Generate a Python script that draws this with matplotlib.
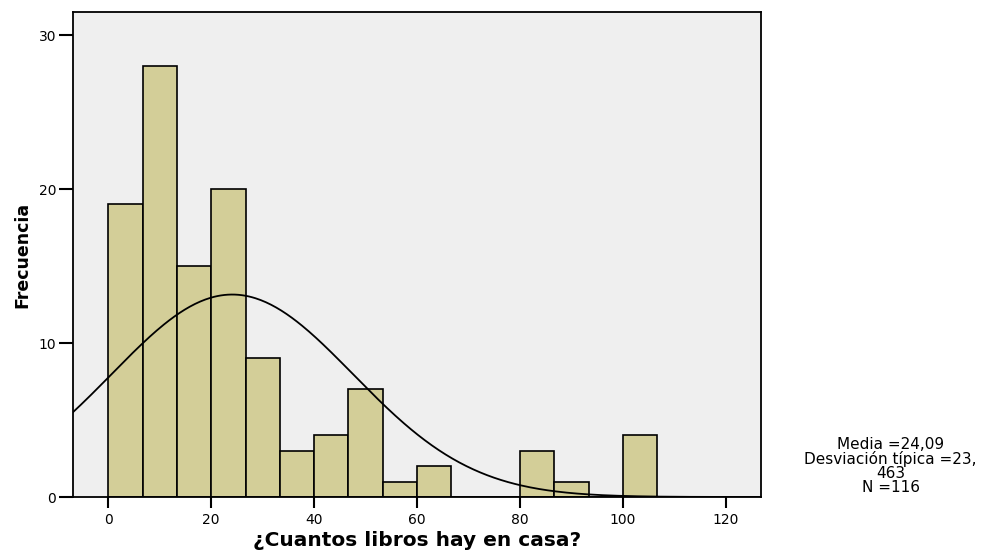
import matplotlib.pyplot as plt
import numpy as np

plt.rcParams['font.family'] = ['DejaVu Sans']

# histogram data
bin_width = 100 / 15
bin_starts = np.arange(16) * bin_width
counts = [19, 28, 15, 20, 9, 3, 4, 7, 1, 2, 0, 0, 3, 1, 0, 4]
mean = 24.09
sd = 23.463
n = 116

fig = plt.figure(figsize=(9.83, 5.55), dpi=100)
ax = fig.add_axes([0.0743, 0.1045, 0.7000, 0.8739])
ax.set_facecolor('#efefef')

ax.bar(bin_starts, counts, width=bin_width, align='edge',
       color='#d3ce98', edgecolor='black', linewidth=1.2, zorder=2)

# normal curve scaled to counts
x = np.linspace(-7, 127, 400)
y = n * bin_width / (sd * np.sqrt(2 * np.pi)) * np.exp(-0.5 * ((x - mean) / sd) ** 2)
ax.plot(x, y, color='black', linewidth=1.3, zorder=3)

ax.set_xlim(-6.85, 126.86)
ax.set_ylim(0, 31.5)
ax.set_xticks([0, 20, 40, 60, 80, 100, 120])
ax.set_yticks([0, 10, 20, 30])
ax.tick_params(axis='both', direction='out', length=8, width=1.5, labelsize=10, color='black')
ax.tick_params(axis='y', length=10, pad=2)
for s in ax.spines.values():
    s.set_linewidth(1.3)

ax.set_xlabel('¿Cuantos libros hay en casa?', fontsize=14.5, fontweight='bold', labelpad=3)
ax.set_ylabel('Frecuencia', fontsize=12.5, fontweight='bold', labelpad=5)

fig.text(0.906, 0.160, 'Media =24,09\nDesviación típica =23,\n463\nN =116',
         ha='center', va='center', fontsize=11, linespacing=0.92)

plt.savefig('out.png', dpi=100)
plt.close()
